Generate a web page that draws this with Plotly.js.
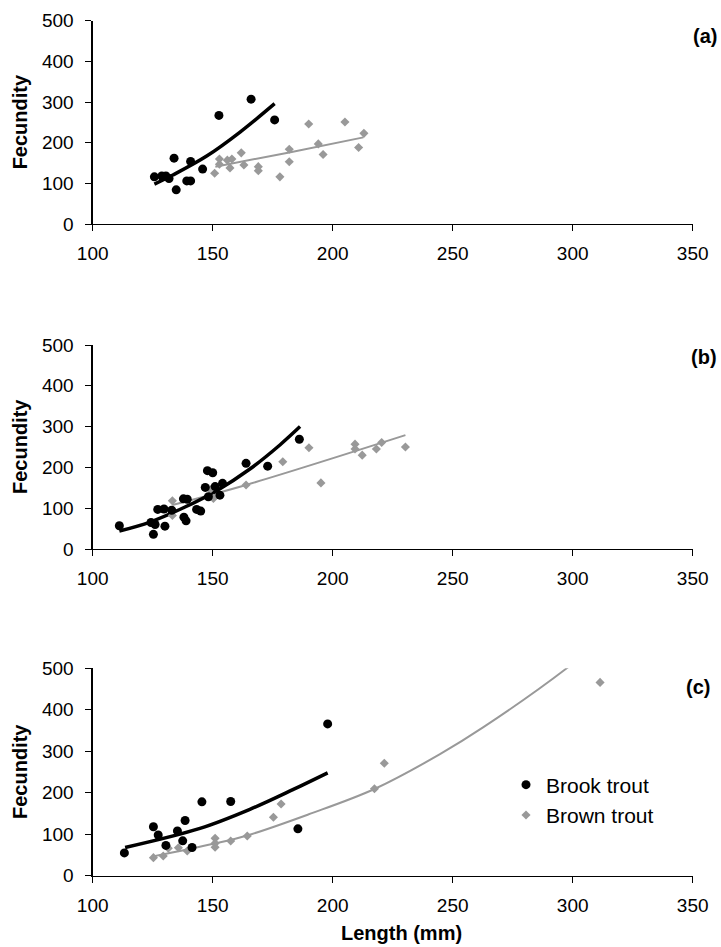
<!DOCTYPE html>
<html>
<head>
<meta charset="utf-8">
<script src="https://cdn.plot.ly/plotly-3.0.1.min.js"></script>
<style>html,body{margin:0;padding:0;background:#fff;}#chart{width:721px;height:947px;}</style>
</head>
<body>
<div id="chart"></div>
<script>
// ---- Panel (a) ----
const aBrookLen = [125.7,128.8,130.5,131.8,133.9,134.8,139.2,140.8,140.8,145.8,152.6,166.0,175.8];
const aBrookFec = [116,118,118,112,162,84,106,106,154,135,267,307,256];
const aBrownLen = [150.8,152.8,152.8,156.1,157.2,158.0,161.9,163.0,169.0,169.0,178.0,181.9,181.9,190.0,194.0,196.0,205.1,210.8,213.0];
const aBrownFec = [125,160,147,157,138,160,175,145,141,131,116,184,153,246,197,171,251,188,223];
const aBrookFitLen = [125.7,133.6,147.5,161.4,175.8];
const aBrookFitFec = [98,121,167,226,296];
const aBrownFitLen = [151.1,181.9,212.8];
const aBrownFitFec = [141,176,213];

// ---- Panel (b) ----
const bBrookLen = [111.1,124.3,125.3,126.0,127.1,129.7,130.1,132.9,137.8,139.4,138.0,138.9,143.3,145.0,146.9,147.8,150.0,148.2,151.0,153.0,154.1,163.9,172.9,186.1];
const bBrookFec = [57,65,36,60,97,98,56,95,123,122,78,69,97,93,151,192,187,128,153,132,161,210,203,269];
const bBrownLen = [133.2,133.2,148.9,150.3,163.9,179.2,190.1,195.1,209.3,209.3,212.3,218.2,220.4,230.3];
const bBrownFec = [118,82,146,124,157,214,248,162,257,245,230,245,261,250];
const bBrookFitLen = [111.1,123.9,137.8,151.7,165.5,178.0,186.4];
const bBrookFitFec = [44,66,101,143,196,255,300];
const bBrownFitLen = [133.2,163.9,230.3];
const bBrownFitFec = [108,157,279];

// ---- Panel (c) ----
const cBrookLen = [113.2,125.3,127.3,130.5,135.3,137.5,138.5,141.4,145.5,157.5,185.5,197.9];
const cBrookFec = [55,118,98,73,108,84,133,68,178,179,113,366];
const cBrownLen = [125.3,129.4,131.5,135.7,139.4,151.0,151.0,151.0,157.5,164.4,175.3,178.5,217.4,221.5,311.4];
const cBrownFec = [43.5,47.5,66,67.5,59.5,90,78,68.5,83.6,95.7,140.8,172.9,209.7,271,466];
const cBrookFitLen = [113.5,144.7,165.5,183.6,197.9];
const cBrookFitFec = [68,114,160,208,248];
const cBrownFitLen = [124.6,150.3,164.4,190.0,217.4,244.7,262.8,297.5,311.4];
const cBrownFitFec = [46,77,97,148,209,293,358,500,567];

const xTickVals = [100,150,200,250,300,350];
const yTickVals = [0,100,200,300,400,500];
const panelLabels = ['(a)','(b)','(c)'];
const seriesNames = ['Brook trout','Brown trout'];

const FONT = 'Arial, "Liberation Sans", sans-serif';
const BLACK = '#000000';
const GRAY = '#999999';

const panels = [
  {bl:aBrookLen,bf:aBrookFec,wl:aBrownLen,wf:aBrownFec,bfl:aBrookFitLen,bff:aBrookFitFec,wfl:aBrownFitLen,wff:aBrownFitFec},
  {bl:bBrookLen,bf:bBrookFec,wl:bBrownLen,wf:bBrownFec,bfl:bBrookFitLen,bff:bBrookFitFec,wfl:bBrownFitLen,wff:bBrownFitFec},
  {bl:cBrookLen,bf:cBrookFec,wl:cBrownLen,wf:cBrownFec,bfl:cBrookFitLen,bff:cBrookFitFec,wfl:cBrownFitLen,wff:cBrownFitFec}
];

const traces = [];
panels.forEach((p, i) => {
  const xa = i === 0 ? 'x' : 'x' + (i + 1);
  const ya = i === 0 ? 'y' : 'y' + (i + 1);
  const legendOn = i === 2;
  traces.push({x:p.wfl, y:p.wff, xaxis:xa, yaxis:ya, mode:'lines', line:{color:GRAY, width:2, shape:'spline', smoothing:1}, showlegend:false, hoverinfo:'skip'});
  traces.push({x:p.bfl, y:p.bff, xaxis:xa, yaxis:ya, mode:'lines', line:{color:BLACK, width:3.5, shape:'spline', smoothing:1}, showlegend:false, hoverinfo:'skip'});
  traces.push({x:p.wl, y:p.wf, xaxis:xa, yaxis:ya, mode:'markers', name:seriesNames[1], legendrank:2, marker:{symbol:'diamond', size:7, color:GRAY}, showlegend:legendOn, cliponaxis:false});
  traces.push({x:p.bl, y:p.bf, xaxis:xa, yaxis:ya, mode:'markers', name:seriesNames[0], legendrank:1, marker:{symbol:'circle', size:9, color:BLACK}, showlegend:legendOn, cliponaxis:false});
});

const W = 721, H = 947;
const xDom = [92.7 / W, 692.7 / W];
const yPix = [[20.7, 224], [345, 549], [668.3, 875.7]];

function xAxis(anchor) {
  return {domain:xDom, anchor:anchor, range:[100,350], tickvals:xTickVals, ticktext:xTickVals.map(String),
    ticks:'outside', ticklen:6, tickcolor:BLACK, tickwidth:1, showline:true, linecolor:BLACK, linewidth:1.3,
    showgrid:false, zeroline:false, tickfont:{family:FONT, size:19, color:BLACK}, ticklabelstandoff:6, fixedrange:true};
}
function yAxis(anchor, dom) {
  return {domain:dom, anchor:anchor, range:[0,500], tickvals:yTickVals, ticktext:yTickVals.map(String),
    ticks:'outside', ticklen:6, tickcolor:BLACK, tickwidth:1, showline:true, linecolor:BLACK, linewidth:1.3,
    showgrid:false, zeroline:false, tickfont:{family:FONT, size:19, color:BLACK}, ticklabelstandoff:8, fixedrange:true};
}

const layout = {
  width:W, height:H, margin:{l:0, r:0, t:0, b:0}, paper_bgcolor:'#ffffff', plot_bgcolor:'#ffffff',
  font:{family:FONT, color:BLACK},
  showlegend:true,
  legend:{x:506 / W, xanchor:'left', y:1 - 800 / H, yanchor:'middle', font:{family:FONT, size:21, color:BLACK},
    bgcolor:'rgba(0,0,0,0)', borderwidth:0, itemclick:false, itemdoubleclick:false},
  annotations:[]
};

for (let i = 0; i < 3; i++) {
  const sfx = i === 0 ? '' : String(i + 1);
  const dom = [1 - yPix[i][1] / H, 1 - yPix[i][0] / H];
  layout['xaxis' + sfx] = xAxis('y' + sfx);
  layout['yaxis' + sfx] = yAxis('x' + sfx, dom);
  layout.annotations.push({text:'<b>Fecundity</b>', xref:'paper', yref:'paper', x:20 / W, y:(dom[0] + dom[1]) / 2,
    xanchor:'center', yanchor:'middle', textangle:-90, showarrow:false, font:{family:FONT, size:20, color:BLACK}});
}
const labelPos = [[719, 36], [719, 357], [712, 686.7]];
panelLabels.forEach((t, i) => {
  layout.annotations.push({text:'<b>' + t + '</b>', xref:'paper', yref:'paper', x:labelPos[i][0] / W, y:1 - labelPos[i][1] / H,
    xanchor:'right', yanchor:'middle', showarrow:false, font:{family:FONT, size:20, color:BLACK}});
});
layout.annotations.push({text:'<b>Length (mm)</b>', xref:'paper', yref:'paper', x:401 / W, y:1 - 933 / H,
  xanchor:'center', yanchor:'middle', showarrow:false, font:{family:FONT, size:20, color:BLACK}});

Plotly.newPlot('chart', traces, layout, {displayModeBar:false, staticPlot:true});
</script>
</body>
</html>
